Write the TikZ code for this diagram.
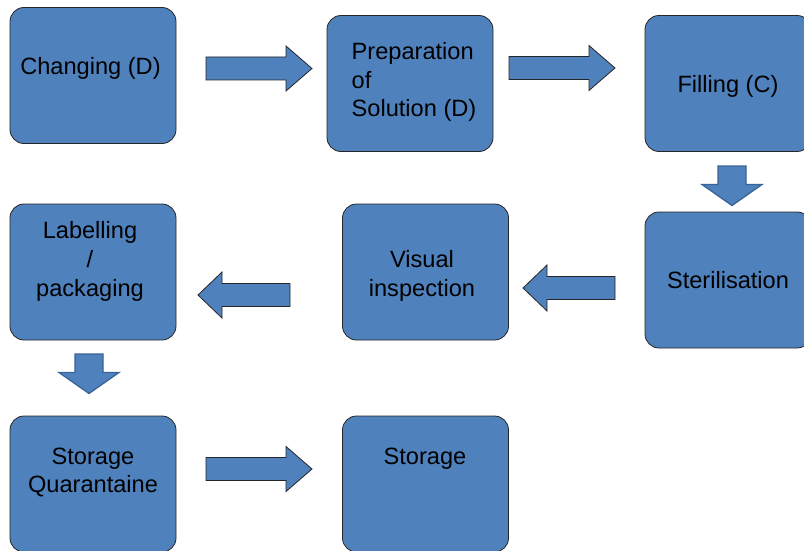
\documentclass[tikz,border=0pt]{standalone}
\usepackage{fontspec}
\setmainfont{Liberation Sans}
\definecolor{boxblue}{HTML}{4F81BD}
\definecolor{edgeblue}{HTML}{3A6396}
\tikzset{
  stepbox/.style={draw=black!85, line width=0.8pt, fill=boxblue, rounded corners=14pt,
    minimum width=166pt, minimum height=136pt, inner sep=0pt},
  boxtext/.style={font=\fontsize{23.6}{28.8}\selectfont, inner sep=0pt, align=center},
  flatarrow/.style={draw=black!85, line width=0.8pt, fill=boxblue},
  downarrow/.style={draw=edgeblue, line width=1.3pt, fill=boxblue}
}

\begin{document}
\begin{tikzpicture}[x=1pt, y=-1pt]

\path[use as bounding box] (0,0) rectangle (804,551);
\clip (0,0) rectangle (804,551);

% boxes
\node[stepbox] (changing) at (93,75.5) {};
\node[stepbox] (prep) at (410,83.5) {};
\node[stepbox] (filling) at (728,83.5) {};
\node[stepbox] (steril) at (728,280) {};
\node[stepbox] (visual) at (425.5,272) {};
\node[stepbox] (labelling) at (93,272) {};
\node[stepbox] (quarantine) at (93,484) {};
\node[stepbox] (storage) at (425.5,484) {};

% texts
\node[boxtext] (changing-t) at (90.5,68) {Changing (D)};
\node[boxtext, align=left, anchor=west] (prep-t) at (351.5,82) {Preparation\\of\\Solution (D)};
\node[boxtext] (filling-t) at (728,86) {Filling (C)};
\node[boxtext] (steril-t) at (728,280.5) {Sterilisation};
\node[boxtext] (visual-t) at (422,275.5) {Visual\\inspection};
\node[boxtext] (labelling-t) at (90,261.5) {Labelling\\/\\packaging};
\node[boxtext] (quarantine-t) at (93,472.5) {Storage\\Quarantaine};
\node[boxtext] (storage-t) at (425,459) {Storage};

% right arrows
\foreach \a/\c in {206/68.5, 509/68, 206/469}
  {\draw[flatarrow] (\a,\c-11.5) -- (\a+80,\c-11.5) -- (\a+80,\c-22.5) -- (\a+106,\c)
     -- (\a+80,\c+22.5) -- (\a+80,\c+11.5) -- (\a,\c+11.5) -- cycle;}
% left arrows
\foreach \a/\c in {615/288, 290/295}
  {\draw[flatarrow] (\a,\c-11.5) -- (\a-68,\c-11.5) -- (\a-68,\c-23) -- (\a-92,\c)
     -- (\a-68,\c+23) -- (\a-68,\c+11.5) -- (\a,\c+11.5) -- cycle;}
% down arrows
\foreach \a/\c in {732/166, 89/354}
  {\draw[downarrow] (\a-14,\c) -- (\a+14,\c) -- (\a+14,\c+18.5) -- (\a+30,\c+18.5)
     -- (\a,\c+39.5) -- (\a-30,\c+18.5) -- (\a-14,\c+18.5) -- cycle;}

\end{tikzpicture}
\end{document}
